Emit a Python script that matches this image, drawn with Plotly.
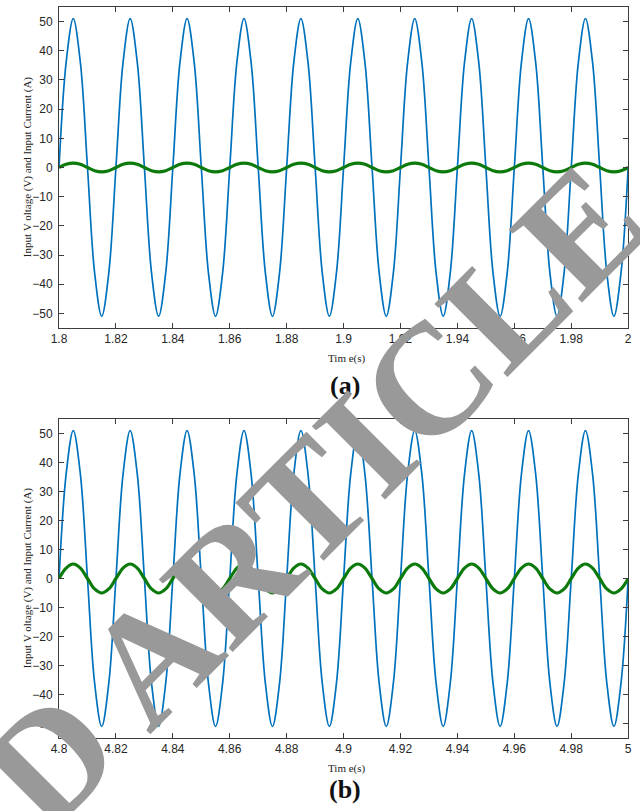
import plotly.graph_objects as go

# ---- data (samples every 2.5 ms, 1/8 of a 50 Hz cycle) ----
t_start_a = 1.80
t_start_b = 4.80
sample_step = 0.0025

voltage_a = [
    0, 36, 51, 36, 0, -36, -51, -36,
    0, 36, 51, 36, 0, -36, -51, -36,
    0, 36, 51, 36, 0, -36, -51, -36,
    0, 36, 51, 36, 0, -36, -51, -36,
    0, 36, 51, 36, 0, -36, -51, -36,
    0, 36, 51, 36, 0, -36, -51, -36,
    0, 36, 51, 36, 0, -36, -51, -36,
    0, 36, 51, 36, 0, -36, -51, -36,
    0, 36, 51, 36, 0, -36, -51, -36,
    0, 36, 51, 36, 0, -36, -51, -36,
    0,
]
current_a = [
    0, 1.1, 1.5, 1.1, 0, -1.1, -1.5, -1.1,
    0, 1.1, 1.5, 1.1, 0, -1.1, -1.5, -1.1,
    0, 1.1, 1.5, 1.1, 0, -1.1, -1.5, -1.1,
    0, 1.1, 1.5, 1.1, 0, -1.1, -1.5, -1.1,
    0, 1.1, 1.5, 1.1, 0, -1.1, -1.5, -1.1,
    0, 1.1, 1.5, 1.1, 0, -1.1, -1.5, -1.1,
    0, 1.1, 1.5, 1.1, 0, -1.1, -1.5, -1.1,
    0, 1.1, 1.5, 1.1, 0, -1.1, -1.5, -1.1,
    0, 1.1, 1.5, 1.1, 0, -1.1, -1.5, -1.1,
    0, 1.1, 1.5, 1.1, 0, -1.1, -1.5, -1.1,
    0,
]
voltage_b = [
    0, 36, 51, 36, 0, -36, -51, -36,
    0, 36, 51, 36, 0, -36, -51, -36,
    0, 36, 51, 36, 0, -36, -51, -36,
    0, 36, 51, 36, 0, -36, -51, -36,
    0, 36, 51, 36, 0, -36, -51, -36,
    0, 36, 51, 36, 0, -36, -51, -36,
    0, 36, 51, 36, 0, -36, -51, -36,
    0, 36, 51, 36, 0, -36, -51, -36,
    0, 36, 51, 36, 0, -36, -51, -36,
    0, 36, 51, 36, 0, -36, -51, -36,
    0,
]
current_b = [
    0, 3.6, 5, 3.6, 0, -3.6, -5, -3.6,
    0, 3.6, 5, 3.6, 0, -3.6, -5, -3.6,
    0, 3.6, 5, 3.6, 0, -3.6, -5, -3.6,
    0, 3.6, 5, 3.6, 0, -3.6, -5, -3.6,
    0, 3.6, 5, 3.6, 0, -3.6, -5, -3.6,
    0, 3.6, 5, 3.6, 0, -3.6, -5, -3.6,
    0, 3.6, 5, 3.6, 0, -3.6, -5, -3.6,
    0, 3.6, 5, 3.6, 0, -3.6, -5, -3.6,
    0, 3.6, 5, 3.6, 0, -3.6, -5, -3.6,
    0, 3.6, 5, 3.6, 0, -3.6, -5, -3.6,
    0,
]

xtick_vals_a = [1.80, 1.82, 1.84, 1.86, 1.88, 1.90, 1.92, 1.94, 1.96, 1.98, 2.00]
xtick_text_a = ["1.8", "1.82", "1.84", "1.86", "1.88", "1.9", "1.92", "1.94", "1.96", "1.98", "2"]
xtick_vals_b = [4.80, 4.82, 4.84, 4.86, 4.88, 4.90, 4.92, 4.94, 4.96, 4.98, 5.00]
xtick_text_b = ["4.8", "4.82", "4.84", "4.86", "4.88", "4.9", "4.92", "4.94", "4.96", "4.98", "5"]
ytick_vals = [-50, -40, -30, -20, -10, 0, 10, 20, 30, 40, 50]

y_title = "Input V oltage (V) and Input Current (A)"
x_title = "Tim e(s)"
watermark = "D ARTICLE"

BLUE = "#0072BD"
GREEN = "#0b7a0b"
AX = "#3c3c3c"
W, H = 640, 811

fig = go.Figure()
fig.add_trace(go.Scatter(x0=t_start_a, dx=sample_step, y=voltage_a, mode="lines",
                         line=dict(color=BLUE, width=1.7, shape="spline", smoothing=1.0),
                         xaxis="x", yaxis="y", showlegend=False))
fig.add_trace(go.Scatter(x0=t_start_a, dx=sample_step, y=current_a, mode="lines",
                         line=dict(color=GREEN, width=3.2, shape="spline", smoothing=1.0),
                         xaxis="x", yaxis="y", showlegend=False))
fig.add_trace(go.Scatter(x0=t_start_b, dx=sample_step, y=voltage_b, mode="lines",
                         line=dict(color=BLUE, width=1.7, shape="spline", smoothing=1.0),
                         xaxis="x2", yaxis="y2", showlegend=False))
fig.add_trace(go.Scatter(x0=t_start_b, dx=sample_step, y=current_b, mode="lines",
                         line=dict(color=GREEN, width=3.2, shape="spline", smoothing=1.0),
                         xaxis="x2", yaxis="y2", showlegend=False))

xdom = [52 / W, 632 / W]
ydom_a = [1 - 328 / H, 1 - 7 / H]
ydom_b = [1 - 738 / H, 1 - 419 / H]

tickfont = dict(family="Liberation Sans, Arial", size=12, color="#262626")
common_x = dict(showline=True, linecolor=AX, linewidth=1, mirror="ticks", ticks="inside",
                ticklen=5, tickcolor=AX, showgrid=False, zeroline=False, tickfont=tickfont)
common_y = dict(showline=True, linecolor=AX, linewidth=1, mirror="ticks", ticks="inside",
                ticklen=5, tickcolor=AX, showgrid=False, zeroline=False, tickfont=tickfont,
                range=[-55, 55], tickvals=ytick_vals, ticklabelstandoff=3)

fig.update_layout(
    width=W, height=H,
    margin=dict(l=0, r=0, t=0, b=0),
    paper_bgcolor="white", plot_bgcolor="white",
    xaxis=dict(domain=xdom, anchor="y", range=[1.8, 2.0], tickvals=xtick_vals_a,
               ticktext=xtick_text_a, **common_x),
    yaxis=dict(domain=ydom_a, anchor="x", **common_y),
    xaxis2=dict(domain=xdom, anchor="y2", range=[4.8, 5.0], tickvals=xtick_vals_b,
                ticktext=xtick_text_b, **common_x),
    yaxis2=dict(domain=ydom_b, anchor="x2", **common_y),
)

serif = "Liberation Serif"
ann = []
for yc in [(7 + 328) / 2, (419 + 738) / 2]:
    ann.append(dict(text=y_title, xref="paper", yref="paper", x=20 / W, y=1 - yc / H,
                    textangle=-90, showarrow=False, xanchor="center", yanchor="middle",
                    font=dict(family=serif, size=11, color="#222")))
for yc in [358, 768]:
    ann.append(dict(text=x_title, xref="paper", yref="paper", x=345 / W, y=1 - yc / H,
                    showarrow=False, xanchor="center", yanchor="middle",
                    font=dict(family=serif, size=11, color="#222")))
for lab, yc in [("(a)", 385), ("(b)", 789)]:
    ann.append(dict(text="<b>" + lab + "</b>", xref="paper", yref="paper", x=343 / W, y=1 - yc / H,
                    showarrow=False, xanchor="center", yanchor="middle",
                    font=dict(family=serif, size=26, color="#111")))
ann.append(dict(text="<b>" + watermark + "</b>", xref="paper", yref="paper", x=310 / W, y=1 - 496 / H,
                textangle=-45, showarrow=False, xanchor="center", yanchor="middle",
                font=dict(family=serif, size=158, color="#999999")))
fig.update_layout(annotations=ann)

fig.write_html("out.html")
